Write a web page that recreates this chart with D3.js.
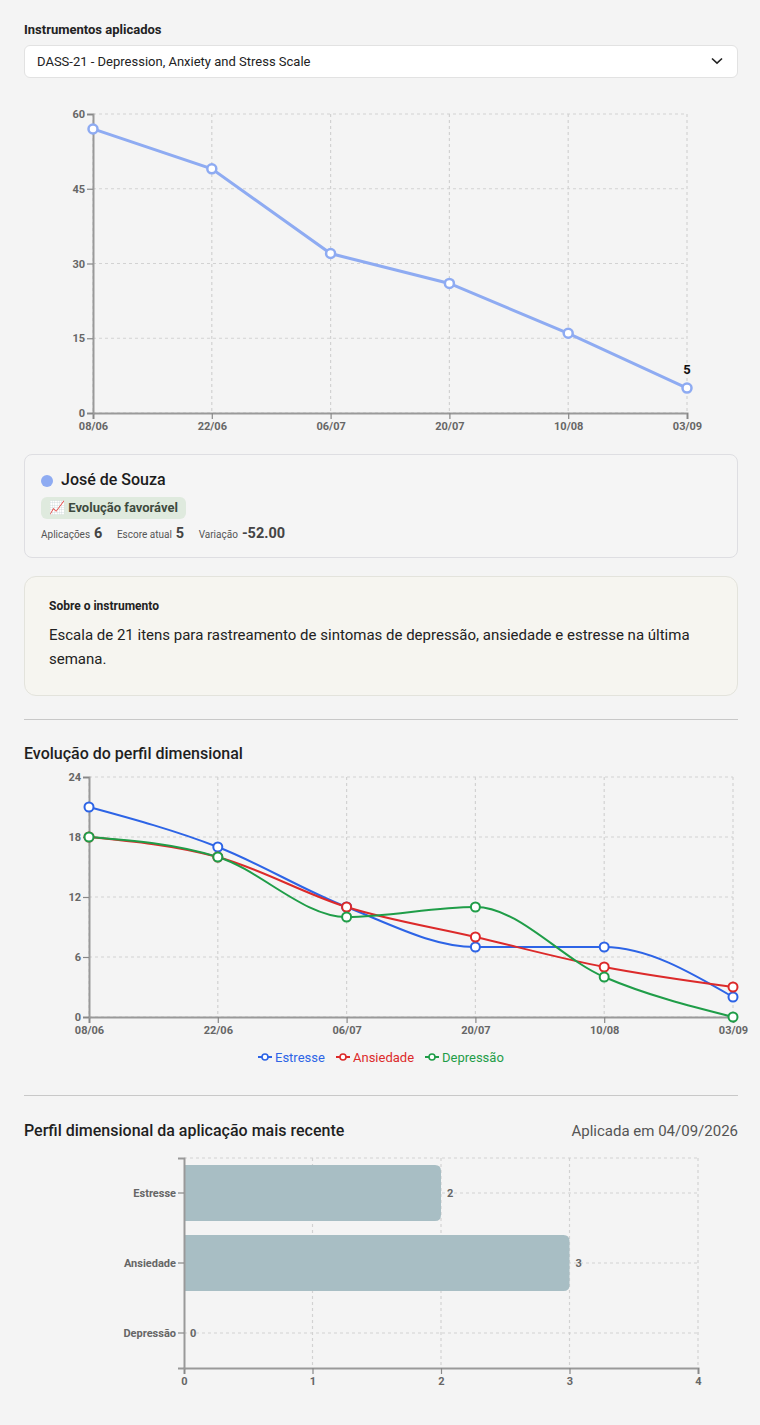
<!DOCTYPE html>
<html>
<head>
<meta charset="utf-8">
<script src="https://cdn.jsdelivr.net/npm/d3@7"></script>
<style>
  body { margin: 0; background: #f4f4f4; font-family: Roboto, "Noto Sans", sans-serif; color: #222; }
  #page { position: relative; width: 760px; height: 1425px; }
  .abs { position: absolute; }
  .lbl { left: 24px; top: 22px; font-size: 13px; font-weight: 700; color: #222; }
  .select { left: 24px; top: 45px; width: 712px; height: 31px; background: #fff; border: 1px solid #e2e2e2; border-radius: 6px; font-size: 13px; line-height: 31px; box-sizing: content-box; }
  .select span { position: absolute; left: 12px; }
  .select svg { position: absolute; right: 14px; top: 11px; }
  .card { left: 24px; top: 454px; width: 712px; height: 102px; border: 1px solid #dedee2; border-radius: 8px; background: #f5f5f5; }
  .dot { left: 16px; top: 20px; width: 12px; height: 12px; border-radius: 50%; background: #8eabf2; }
  .name { left: 36px; top: 15px; font-size: 16px; font-weight: 500; color: #1c1c1c; }
  .badge { left: 16px; top: 42px; height: 22px; padding: 0 8px 0 8px; border-radius: 6px; background: #dfeade; font-size: 13px; font-weight: 700; color: #3e4a3e; line-height: 22px; }
  .stats { left: 16px; top: 70px; font-size: 10px; color: #555; white-space: nowrap; }
  .stats b { font-size: 14.5px; color: #444; margin: 0 12px 0 4px; }
  .about { left: 24px; top: 576px; width: 712px; height: 118px; border: 1px solid #e3e3dc; border-radius: 12px; background: #f6f5f0; }
  .about h4 { position: absolute; left: 24px; top: 22px; margin: 0; font-size: 12px; font-weight: 700; }
  .about p { position: absolute; left: 24px; top: 46px; margin: 0; width: 664px; font-size: 15px; line-height: 24px; color: #222; }
  .sep { left: 24px; width: 714px; height: 1px; background: #c8c8c8; }
  .h3 { left: 24px; font-size: 16px; font-weight: 500; color: #1f1f1f; }
  .date { right: 22px; font-size: 15px; color: #555; }
  svg text { font-family: Roboto, "Noto Sans", sans-serif; }
</style>
</head>
<body>
<div id="page">
  <div class="abs lbl">Instrumentos aplicados</div>
  <div class="abs select"><span>DASS-21 - Depression, Anxiety and Stress Scale</span>
    <svg width="12" height="8" viewBox="0 0 12 8"><path d="M1 1.5L6 6.2L11 1.5" fill="none" stroke="#222" stroke-width="1.6"/></svg>
  </div>
  <svg id="chart1" class="abs" style="left:0;top:100px" width="760" height="340"></svg>
  <div class="abs card">
    <div class="abs dot"></div>
    <div class="abs name">José de Souza</div>
    <div class="abs badge">📈 Evolução favorável</div>
    <div class="abs stats">Aplicações<b>6</b> Escore atual<b>5</b> Variação<b>-52.00</b></div>
  </div>
  <div class="abs about">
    <h4>Sobre o instrumento</h4>
    <p>Escala de 21 itens para rastreamento de sintomas de depressão, ansiedade e estresse na última semana.</p>
  </div>
  <div class="abs sep" style="top:719px"></div>
  <div class="abs h3" style="top:744px">Evolução do perfil dimensional</div>
  <svg id="chart2" class="abs" style="left:0;top:770px" width="760" height="300"></svg>
  <div class="abs sep" style="top:1095px"></div>
  <div class="abs h3" style="top:1121px">Perfil dimensional da aplicação mais recente</div>
  <div class="abs date" style="top:1122px">Aplicada em 04/09/2026</div>
  <svg id="chart3" class="abs" style="left:0;top:1150px" width="760" height="250"></svg>
</div>
<script>
// datas das aplicações
var dates = ['08/06', '22/06', '06/07', '20/07', '10/08', '03/09']
// escore total
var totalScores = [57, 49, 32, 26, 16, 5]
var totalTicks = [0, 15, 30, 45, 60]
// dimensões
var dimNames = ['Estresse', 'Ansiedade', 'Depressão']
var stressVals = [21, 17, 11, 7, 7, 2]
var anxietyVals = [18, 16, 11, 8, 5, 3]
var depressionVals = [18, 16, 10, 11, 4, 0]
var dimTicks = [0, 6, 12, 18, 24]
var dimColors = ['#2d64e6', '#dc2a2a', '#1f9d48']
// aplicação mais recente
var latestVals = [2, 3, 0]
var latestTicks = [0, 1, 2, 3, 4]

function styleAxis(g) {
    g.select('.domain').attr('stroke', '#999').attr('stroke-width', 2)
    g.selectAll('.tick line').attr('stroke', '#888').attr('stroke-width', 1.2)
    g.selectAll('.tick text')
        .attr('fill', '#666')
        .attr('font-size', 11)
        .attr('font-weight', 700)
}

function gridLines(g, x, y, xs, ys, w, h) {
    g.selectAll('line.gx').data(xs).enter().append('line')
        .attr('x1', function (d) { return x(d) }).attr('x2', function (d) { return x(d) })
        .attr('y1', 0).attr('y2', h)
    g.selectAll('line.gy').data(ys).enter().append('line')
        .attr('y1', function (d) { return y(d) }).attr('y2', function (d) { return y(d) })
        .attr('x1', 0).attr('x2', w)
    g.selectAll('line')
        .attr('stroke', '#d2d2d2')
        .attr('stroke-dasharray', '3,3')
        .attr('stroke-width', 1.2)
}

// gráfico 1 - escore total
;(function () {
    var m = { l: 93, t: 14 }, w = 594, h = 299
    var svg = d3.select('#chart1')
    var g = svg.append('g').attr('transform', 'translate(' + m.l + ',' + m.t + ')')
    var x = d3.scalePoint().domain(dates).range([0, w])
    var y = d3.scaleLinear().domain([0, 60]).range([h, 0])

    gridLines(g.append('g'), x, y, dates, totalTicks, w, h)

    g.append('g').attr('transform', 'translate(0,' + h + ')')
        .call(d3.axisBottom(x).tickSize(6).tickPadding(3))
        .call(styleAxis)
    g.append('g')
        .call(d3.axisLeft(y).tickValues(totalTicks).tickSize(6).tickPadding(2))
        .call(styleAxis)

    var pts = dates.map(function (d, i) { return [d, totalScores[i]] })
    g.append('path')
        .datum(pts)
        .attr('fill', 'none')
        .attr('stroke', '#8eabf2')
        .attr('stroke-width', 3)
        .attr('d', d3.line().x(function (d) { return x(d[0]) }).y(function (d) { return y(d[1]) }))
    g.selectAll('circle').data(pts).enter().append('circle')
        .attr('cx', function (d) { return x(d[0]) })
        .attr('cy', function (d) { return y(d[1]) })
        .attr('r', 4.5)
        .attr('fill', '#fff')
        .attr('stroke', '#8eabf2')
        .attr('stroke-width', 2.5)
    var last = pts[pts.length - 1]
    g.append('text')
        .attr('x', x(last[0])).attr('y', y(last[1]) - 14)
        .attr('text-anchor', 'middle')
        .attr('font-size', 13).attr('font-weight', 700).attr('fill', '#111')
        .text(last[1])
})()

// gráfico 2 - dimensões
;(function () {
    var m = { l: 89, t: 7 }, w = 644, h = 240
    var svg = d3.select('#chart2')
    var g = svg.append('g').attr('transform', 'translate(' + m.l + ',' + m.t + ')')
    var x = d3.scalePoint().domain(dates).range([0, w])
    var y = d3.scaleLinear().domain([0, 24]).range([h, 0])

    gridLines(g.append('g'), x, y, dates, dimTicks, w, h)

    g.append('g').attr('transform', 'translate(0,' + h + ')')
        .call(d3.axisBottom(x).tickSize(6).tickPadding(3))
        .call(styleAxis)
    g.append('g')
        .call(d3.axisLeft(y).tickValues(dimTicks).tickSize(6).tickPadding(2))
        .call(styleAxis)

    var series = [stressVals, anxietyVals, depressionVals]
    var line = d3.line()
        .x(function (d, i) { return x(dates[i]) })
        .y(function (d) { return y(d) })
        .curve(d3.curveMonotoneX)

    series.forEach(function (vals, k) {
        g.append('path')
            .datum(vals)
            .attr('fill', 'none')
            .attr('stroke', dimColors[k])
            .attr('stroke-width', 2)
            .attr('d', line)
    })
    series.forEach(function (vals, k) {
        g.append('g').selectAll('circle').data(vals).enter().append('circle')
            .attr('cx', function (d, i) { return x(dates[i]) })
            .attr('cy', function (d) { return y(d) })
            .attr('r', 4.5)
            .attr('fill', '#fff')
            .attr('stroke', dimColors[k])
            .attr('stroke-width', 2)
    })

    // legenda
    var lg = svg.append('g').attr('transform', 'translate(0,287)')
    var lx = [258, 336, 425]
    dimNames.forEach(function (n, k) {
        var it = lg.append('g').attr('transform', 'translate(' + lx[k] + ',0)')
        it.append('line').attr('x1', 0).attr('x2', 14).attr('y1', 0).attr('y2', 0)
            .attr('stroke', dimColors[k]).attr('stroke-width', 2)
        it.append('circle').attr('cx', 7).attr('cy', 0).attr('r', 3)
            .attr('fill', '#fff').attr('stroke', dimColors[k]).attr('stroke-width', 1.6)
        it.append('text').attr('x', 17).attr('y', 4.5)
            .attr('font-size', 13).attr('fill', dimColors[k]).text(n)
    })
})()

// gráfico 3 - barras
;(function () {
    var m = { l: 184, t: 8 }, w = 514, h = 210
    var svg = d3.select('#chart3')
    var g = svg.append('g').attr('transform', 'translate(' + m.l + ',' + m.t + ')')
    var x = d3.scaleLinear().domain([0, 4]).range([0, w])
    var y = d3.scaleBand().domain(dimNames).range([0, h]).paddingInner(0.2).paddingOuter(0.1)
    var yc = function (d) { return y(d) + y.bandwidth() / 2 }

    var grid = g.append('g')
    grid.selectAll('line.gx').data(latestTicks.slice(1)).enter().append('line')
        .attr('x1', function (d) { return x(d) }).attr('x2', function (d) { return x(d) })
        .attr('y1', 0).attr('y2', h)
    grid.selectAll('line.gy').data(dimNames).enter().append('line')
        .attr('y1', yc).attr('y2', yc)
        .attr('x1', 0).attr('x2', w)
    grid.append('line').attr('x1', 0).attr('x2', w).attr('y1', 0).attr('y2', 0)
    grid.selectAll('line')
        .attr('stroke', '#d2d2d2')
        .attr('stroke-dasharray', '3,3')
        .attr('stroke-width', 1.2)

    var r = 6
    g.selectAll('path.bar').data(latestVals).enter().append('path')
        .attr('class', 'bar')
        .attr('fill', '#a8bec4')
        .attr('d', function (d, i) {
            var y0 = y(dimNames[i]), bh = y.bandwidth(), bw = x(d)
            if (bw <= 0) return ''
            var rr = Math.min(r, bw)
            return 'M0,' + y0 + 'H' + (bw - rr) + 'Q' + bw + ',' + y0 + ' ' + bw + ',' + (y0 + rr) +
                'V' + (y0 + bh - rr) + 'Q' + bw + ',' + (y0 + bh) + ' ' + (bw - rr) + ',' + (y0 + bh) + 'H0Z'
        })
    g.selectAll('text.val').data(latestVals).enter().append('text')
        .attr('x', function (d) { return x(d) + 6 })
        .attr('y', function (d, i) { return yc(dimNames[i]) + 4 })
        .attr('font-size', 11).attr('font-weight', 700).attr('fill', '#666')
        .text(function (d) { return d })

    g.append('g').attr('transform', 'translate(0,' + h + ')')
        .call(d3.axisBottom(x).tickValues(latestTicks).tickFormat(d3.format('d')).tickSize(6).tickPadding(3))
        .call(styleAxis)
    g.append('g')
        .call(d3.axisLeft(y).tickSize(6).tickPadding(2))
        .call(styleAxis)
})()
</script>
</body>
</html>
